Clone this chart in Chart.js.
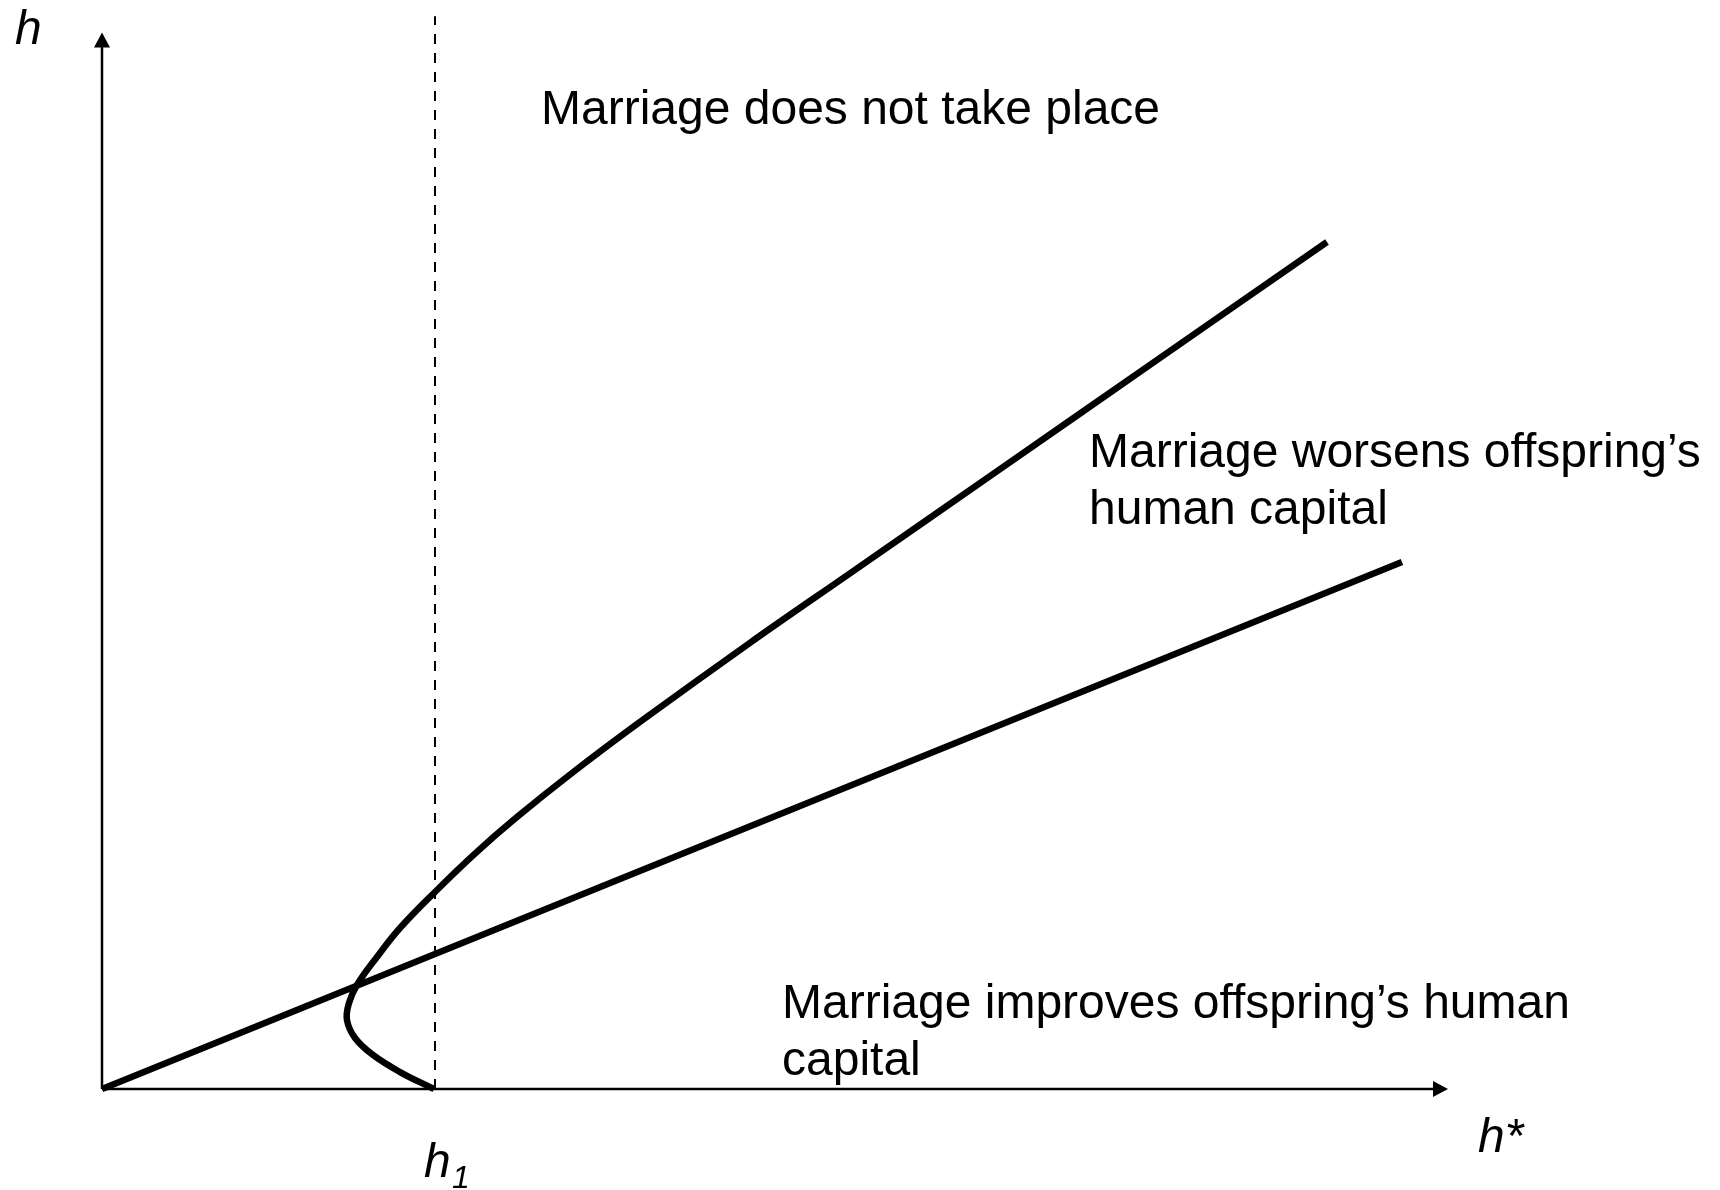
<!DOCTYPE html>
<html>
<head>
<meta charset="utf-8">
<script src="https://cdn.jsdelivr.net/npm/chart.js@4"></script>
<style>
  html, body { margin: 0; padding: 0; background: #fff; }
  canvas { display: block; }
</style>
</head>
<body>
<canvas id="myChart" width="1720" height="1190"></canvas>
<script>
// axis extents (h* horizontal, h vertical)
const xAxisEnd = 10;
const yAxisEnd = 7.85;
const h1 = 2.474;

// straight line through the origin
const lineX = [0, 9.658];
const lineY = [0, 3.915];

// sideways curve, bottom end first
const curveX = [2.466, 2.214, 2.013, 1.880, 1.820, 1.835, 1.894, 2.043, 2.214, 2.474, 2.771, 3.083, 3.499, 3.997, 4.814, 5.557, 6.672, 7.786, 9.101];
const curveY = [0.0, 0.126, 0.253, 0.379, 0.513, 0.639, 0.773, 0.981, 1.196, 1.464, 1.749, 2.020, 2.353, 2.727, 3.315, 3.831, 4.605, 5.380, 6.293];

// dashed guide at h1
const dashTop = 7.97;

const regionLabels = [
  ['Marriage does not take place'],
  ['Marriage worsens offspring\u2019s', 'human capital'],
  ['Marriage improves offspring\u2019s human', 'capital']
];

const pts = (xs, ys) => xs.map((x, i) => ({x: x, y: ys[i]}));

let canva = document.getElementById('myChart').getContext('2d');

const extras = {
  id: 'extras',
  afterDatasetsDraw(chart) {
    const ctx = chart.ctx;
    const xs = chart.scales.x, ys = chart.scales.y;
    const px = v => xs.getPixelForValue(v);
    const py = v => ys.getPixelForValue(v);
    ctx.save();
    ctx.fillStyle = '#000';
    // arrow heads
    ctx.beginPath();
    ctx.moveTo(px(0), py(yAxisEnd));
    ctx.lineTo(px(0) - 8, py(yAxisEnd) + 15);
    ctx.lineTo(px(0) + 8, py(yAxisEnd) + 15);
    ctx.closePath();
    ctx.fill();
    ctx.beginPath();
    ctx.moveTo(px(xAxisEnd), py(0));
    ctx.lineTo(px(xAxisEnd) - 15, py(0) - 8);
    ctx.lineTo(px(xAxisEnd) - 15, py(0) + 8);
    ctx.closePath();
    ctx.fill();

    // region texts
    ctx.font = '48px "Liberation Sans", Arial, sans-serif';
    ctx.textBaseline = 'alphabetic';
    ctx.textAlign = 'left';
    const spots = [[541, 124], [1089, 467], [782, 1018]];
    regionLabels.forEach((lines, i) => {
      lines.forEach((t, j) => ctx.fillText(t, spots[i][0], spots[i][1] + j * 57));
    });

    // axis labels
    ctx.font = 'italic 48px "Liberation Sans", Arial, sans-serif';
    ctx.fillText('h', 15, 44);
    ctx.fillText('h*', 1478, 1152);
    ctx.fillText('h', 424, 1177);
    ctx.font = 'italic 32px "Liberation Sans", Arial, sans-serif';
    ctx.fillText('1', 452, 1188);
    ctx.restore();
  }
};

let config = {
  type: 'scatter',
  data: {
    datasets: [
      { data: pts([0, 0], [0, yAxisEnd - 0.1]), borderWidth: 2.5 },
      { data: pts([0, xAxisEnd - 0.1], [0, 0]), borderWidth: 2.5 },
      { data: pts([h1, h1], [0, dashTop]), borderWidth: 2, borderDash: [10, 9] },
      { data: pts(lineX, lineY), borderWidth: 6.5 },
      { data: pts(curveX, curveY), borderWidth: 6.5, tension: 0.4, borderJoinStyle: 'round' }
    ].map(d => Object.assign({
      showLine: true, pointRadius: 0, borderColor: '#000', backgroundColor: '#000', clip: false
    }, d))
  },
  options: {
    responsive: false,
    animation: false,
    layout: { padding: { left: 102, right: 272, top: 12.2, bottom: 101 } },
    plugins: { legend: { display: false }, tooltip: { enabled: false } },
    scales: {
      x: { type: 'linear', min: 0, max: xAxisEnd, display: false },
      y: { type: 'linear', min: 0, max: 8, display: false }
    }
  },
  plugins: [extras]
};

window.grafica = new Chart(canva, config);
</script>
</body>
</html>
